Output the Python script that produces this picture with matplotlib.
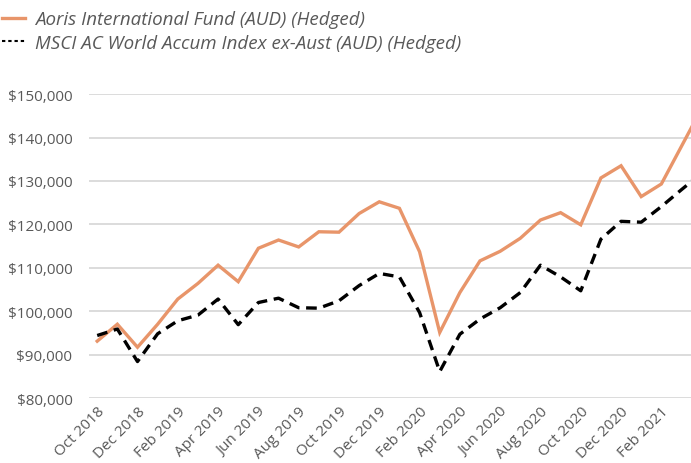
from matplotlib import pyplot as plt
from matplotlib.ticker import FuncFormatter

months = ['Oct 2018', 'Nov 2018', 'Dec 2018', 'Jan 2019', 'Feb 2019', 'Mar 2019', 'Apr 2019',
          'May 2019', 'Jun 2019', 'Jul 2019', 'Aug 2019', 'Sep 2019', 'Oct 2019', 'Nov 2019',
          'Dec 2019', 'Jan 2020', 'Feb 2020', 'Mar 2020', 'Apr 2020', 'May 2020', 'Jun 2020',
          'Jul 2020', 'Aug 2020', 'Sep 2020', 'Oct 2020', 'Nov 2020', 'Dec 2020', 'Jan 2021',
          'Feb 2021', 'Mar 2021', 'Apr 2021']

aoris = [93100, 97000, 91700, 97000, 102800, 106400, 110600, 106800, 114500, 116400, 114800,
         118300, 118200, 122500, 125200, 123700, 113700, 95100, 104300, 111600, 113800, 116800,
         121000, 122700, 119900, 130700, 133500, 126400, 129300, 138000, 146700]

msci = [94400, 95900, 88400, 94800, 97800, 99100, 102800, 96900, 102000, 103000, 100800,
        100700, 102400, 105900, 108700, 107900, 99700, 86100, 94700, 98200, 100800, 104300,
        110600, 107900, 104700, 116600, 120700, 120500, 124100, 128000, 131800]

tick_labels = months[::2][:15]

plt.rcParams['font.family'] = ['Open Sans', 'DejaVu Sans']

fig = plt.figure(figsize=(6.91, 4.64), dpi=100)
ax = fig.add_axes([0.129, 0.140, 0.901, 0.655])

x = list(range(len(months)))
l1, = ax.plot(x, aoris, color='#E8956A', linewidth=2.4, solid_joinstyle='miter',
              label='Aoris International Fund (AUD) (Hedged)')
l2, = ax.plot(x, msci, color='black', linewidth=2.4, linestyle=(0, (3.2, 2.0)),
              label='MSCI AC World Accum Index ex-Aust (AUD) (Hedged)')

ax.set_xlim(-0.4, 30.5)
ax.set_ylim(80000, 150000)
ax.set_yticks(range(80000, 150001, 10000))
ax.yaxis.set_major_formatter(FuncFormatter(lambda v, p: '${:,.0f}'.format(v)))
ax.set_xticks(x[::2][:15])
ax.set_xticklabels(tick_labels, rotation=45, ha='right', rotation_mode='anchor')
ax.tick_params(length=0, labelsize=11, labelcolor='#595959')
ax.tick_params(axis='y', pad=12)
ax.tick_params(axis='x', pad=4)
ax.grid(axis='y', color='#D9D9D9', linewidth=1.3)
ax.set_axisbelow(True)
for s in ax.spines.values():
    s.set_visible(False)

leg = fig.legend(handles=[l1, l2], loc='upper left', bbox_to_anchor=(0.003, 0.976),
                 frameon=False, borderpad=0, borderaxespad=0, handlelength=1.23,
                 handletextpad=0.55, labelspacing=0.3,
                 prop={'size': 13.5, 'style': 'italic'})
for t in leg.get_texts():
    t.set_color('#595959')
leg.get_lines()[1].set_linestyle((0, (1.6, 1.4)))
leg.get_lines()[1].set_linewidth(1.5)

fig.savefig('out.png', dpi=100)
